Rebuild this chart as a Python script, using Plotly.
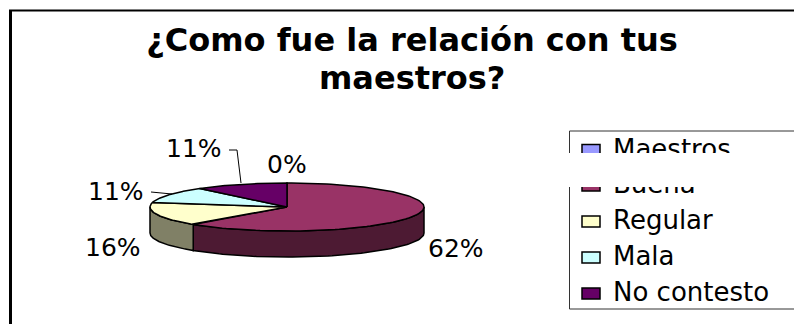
import numpy as np
import plotly.graph_objects as go

categories = ["Maestros", "Buena", "Regular", "Mala", "No contesto"]
values = [0, 62, 16, 11, 11]
top_colors = ["#9999FF", "#993366", "#FFFFCC", "#CCFFFF", "#660066"]
side_colors = ["#4D4D80", "#4D1A33", "#808066", "#668080", "#330033"]
title_lines = ["¿Como fue la relación con tus", "maestros?"]

W, H = 802, 324
OFF = 8  # page margin around the figure
cx, cy, rx, ry, depth = 287, 207, 137, 24, 26
FONT = "DejaVu Sans"
FS = 25
LEG_FS = 26
TITLE_FS = 32

def rim(t):
    return cx + rx * np.sin(t), cy - ry * np.cos(t)

fig = go.Figure()
edges = np.cumsum([0] + values) / sum(values) * 2 * np.pi

# side walls (visible front half only)
for i in range(len(values)):
    a, b = max(edges[i], np.pi / 2), min(edges[i + 1], 3 * np.pi / 2)
    if b <= a:
        continue
    t = np.linspace(a, b, 80)
    x, y = rim(t)
    fig.add_trace(go.Scatter(
        x=np.r_[x, x[::-1], x[0]], y=np.r_[y, y[::-1] + depth, y[0]],
        mode="lines", fill="toself", fillcolor=side_colors[i],
        line=dict(color="black", width=1.5), hoverinfo="skip", showlegend=False))

# top faces
for i in range(len(values)):
    if values[i] == 0:
        continue
    t = np.linspace(edges[i], edges[i + 1], 120)
    x, y = rim(t)
    fig.add_trace(go.Scatter(
        x=np.r_[cx, x, cx], y=np.r_[cy, y, cy],
        mode="lines", fill="toself", fillcolor=top_colors[i],
        line=dict(color="black", width=1.5), name=categories[i],
        hoverinfo="name", showlegend=False))

# data label positions, in pie order
label_xy = [(287, 164), (456, 248), (113, 247), (116, 191), (194, 148)]
anns = []
for v, (lx, ly) in zip(values, label_xy):
    anns.append(dict(x=lx, y=ly, xref="x", yref="y", text=f"{v}%", showarrow=False,
                     xanchor="center", yanchor="middle",
                     font=dict(family=FONT, size=FS, color="black")))

# leader lines
for xs, ys in [([229, 237, 241], [150, 150, 183]), ([151, 172], [192, 194])]:
    fig.add_trace(go.Scatter(x=xs, y=ys, mode="lines", line=dict(color="black", width=1),
                             hoverinfo="skip", showlegend=False))

# frame and legend
shapes = [
    dict(type="line", x0=10.5, x1=10.5, y0=10, y1=H, line=dict(color="black", width=3)),
    dict(type="line", x0=9, x1=W, y0=10.5, y1=10.5, line=dict(color="black", width=2)),
    dict(type="rect", x0=569.5, x1=W + 5, y0=131, y1=309, line=dict(color="#333333", width=1)),
]
leg_y = [144.5, 180, 216, 252, 288]
for name, col, ly in zip(categories, top_colors, leg_y):
    shapes.append(dict(type="rect", x0=582, x1=600, y0=ly, y1=ly + 11,
                       line=dict(color="black", width=1.5), fillcolor=col))
    anns.append(dict(x=611, y=ly + 4, xref="x", yref="y", text=name, showarrow=False,
                     xanchor="left", yanchor="middle",
                     font=dict(family=FONT, size=LEG_FS, color="black")))
# white band that hides part of the legend in the original
anns.append(dict(x=568, y=170, xref="x", yref="y", text=" ", showarrow=False,
                 xanchor="left", yanchor="middle", width=240, height=34,
                 bgcolor="white", borderpad=0, borderwidth=0,
                 font=dict(family=FONT, size=10)))
# second title line
anns.append(dict(x=412, y=87, xref="x", yref="y", text=title_lines[1], showarrow=False,
                 xanchor="center", yanchor="bottom", yshift=-12,
                 font=dict(family=FONT, size=TITLE_FS, color="black", weight="bold")))

fig.update_layout(
    width=W - OFF, height=H - OFF, margin=dict(l=0, r=0, t=0, b=0),
    paper_bgcolor="white", plot_bgcolor="white", showlegend=False,
    xaxis=dict(range=[OFF, W], visible=False, fixedrange=True),
    yaxis=dict(range=[H, OFF], visible=False, fixedrange=True),
    title=dict(text=title_lines[0], x=(412 - OFF) / (W - OFF), xanchor="center",
               y=0.934, yanchor="top",
               font=dict(family=FONT, size=TITLE_FS, color="black", weight="bold")),
    annotations=anns, shapes=shapes,
)
fig.write_html("out.html", config={"displayModeBar": False, "responsive": False})
